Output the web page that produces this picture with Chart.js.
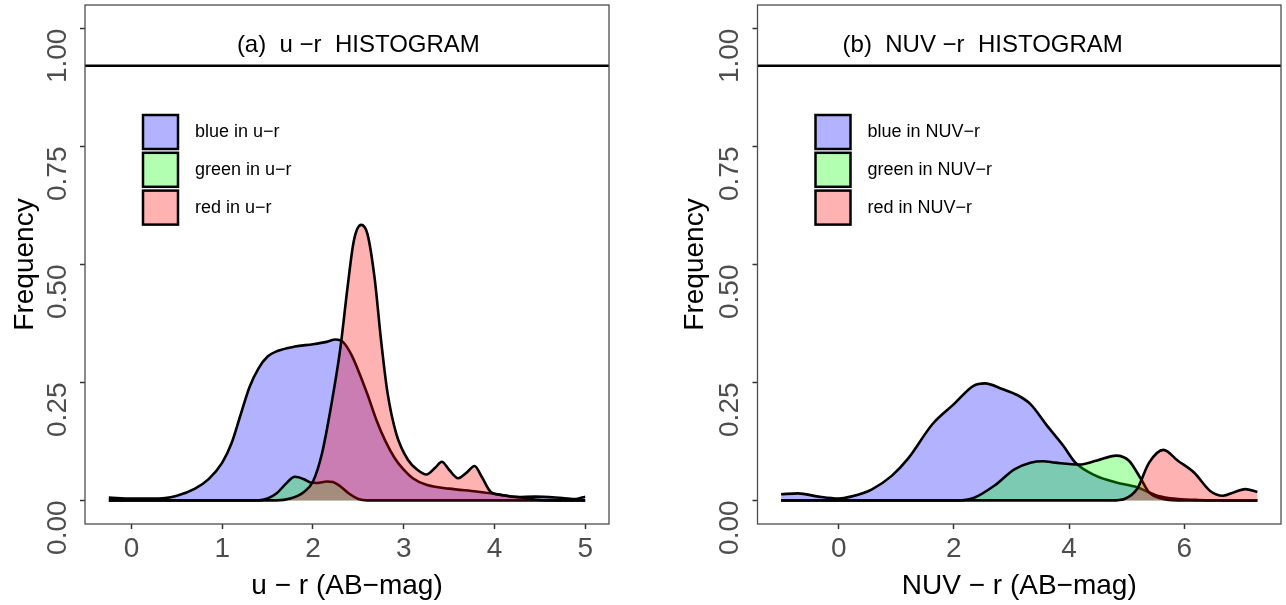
<!DOCTYPE html>
<html>
<head>
<meta charset="utf-8">
<script src="https://cdn.jsdelivr.net/npm/chart.js@4.4.1/dist/chart.umd.min.js"></script>
<style>
  body { margin: 0; background: #fff; }
  #wrap { position: relative; width: 1286px; height: 605px; }
  canvas { position: absolute; top: 0; }
  #chartA { left: 0; }
  #chartB { left: 643px; }
</style>
</head>
<body>
<div id="wrap">
  <canvas id="chartA" width="643" height="605"></canvas>
  <canvas id="chartB" width="643" height="605"></canvas>
</div>
<script>
// ---- data ----
var yTicks = [0, 0.25, 0.5, 0.75, 1];
var yTickLabels = ['0.00', '0.25', '0.50', '0.75', '1.00'];

// (a) u - r
var urTicks = [0, 1, 2, 3, 4, 5];
var urTickLabels = ['0', '1', '2', '3', '4', '5'];
var urBlueX = [-0.25, 0, 0.3, 0.5, 0.7, 0.85, 1.0, 1.1, 1.2, 1.3, 1.4, 1.5, 1.6, 1.8, 2.0, 2.15, 2.25, 2.33, 2.42, 2.5, 2.6, 2.7, 2.8, 2.9, 3.0, 3.1, 3.25, 3.5, 3.8, 4.0, 4.25, 4.45, 4.75, 4.9, 5.0];
var urBlueY = [0.006, 0.004, 0.004, 0.01, 0.025, 0.045, 0.08, 0.12, 0.18, 0.24, 0.28, 0.305, 0.316, 0.326, 0.331, 0.336, 0.341, 0.336, 0.31, 0.275, 0.225, 0.17, 0.125, 0.09, 0.065, 0.047, 0.033, 0.025, 0.019, 0.014, 0.007, 0.008, 0.005, 0.003, 0.008];
var urGreenX = [-0.25, 1.4, 1.5, 1.6, 1.7, 1.8, 1.9, 1.97, 2.05, 2.15, 2.22, 2.3, 2.4, 2.5, 2.6, 5.0];
var urGreenY = [0, 0, 0.004, 0.015, 0.035, 0.05, 0.045, 0.038, 0.037, 0.04, 0.039, 0.03, 0.014, 0.003, 0, 0];
var urRedX = [-0.25, 1.6, 1.75, 1.9, 2.0, 2.1, 2.2, 2.3, 2.38, 2.45, 2.53, 2.6, 2.68, 2.75, 2.82, 2.92, 3.05, 3.15, 3.25, 3.35, 3.42, 3.5, 3.6, 3.7, 3.78, 3.86, 3.96, 4.1, 4.3, 4.5, 4.7, 5.0];
var urRedY = [0, 0, 0.004, 0.018, 0.04, 0.1, 0.2, 0.32, 0.45, 0.55, 0.584, 0.565, 0.47, 0.34, 0.23, 0.14, 0.085, 0.065, 0.055, 0.07, 0.082, 0.065, 0.047, 0.06, 0.073, 0.05, 0.018, 0.011, 0.006, 0.001, 0, 0];

// (b) NUV - r
var nuvTicks = [0, 2, 4, 6];
var nuvTickLabels = ['0', '2', '4', '6'];
var nuvBlueX = [-1.0, -0.71, -0.35, 0, 0.21, 0.57, 0.92, 1.2, 1.63, 2.0, 2.34, 2.54, 2.84, 3.12, 3.33, 3.62, 3.9, 4.11, 4.47, 4.82, 5.18, 5.53, 5.89, 6.24, 7.27];
var nuvBlueY = [0.013, 0.015, 0.008, 0.004, 0.008, 0.023, 0.052, 0.088, 0.162, 0.204, 0.243, 0.248, 0.236, 0.222, 0.204, 0.158, 0.116, 0.08, 0.052, 0.038, 0.028, 0.01, 0.003, 0.001, 0];
var nuvGreenX = [-1.0, 2.06, 2.34, 2.7, 3.05, 3.33, 3.55, 3.76, 4.18, 4.47, 4.82, 5.04, 5.25, 5.39, 5.6, 5.89, 7.27];
var nuvGreenY = [0, 0, 0.005, 0.031, 0.066, 0.08, 0.083, 0.08, 0.076, 0.084, 0.095, 0.084, 0.045, 0.017, 0.004, 0, 0];
var nuvRedX = [-1.0, 4.75, 4.96, 5.18, 5.39, 5.64, 5.89, 6.17, 6.45, 6.67, 6.88, 7.06, 7.27];
var nuvRedY = [0, 0, 0.003, 0.024, 0.08, 0.107, 0.084, 0.059, 0.02, 0.01, 0.018, 0.024, 0.018];

var FONT = '"Liberation Sans", Arial, Helvetica, sans-serif';
var fills = ['rgba(0,0,255,0.3)', 'rgba(0,255,0,0.3)', 'rgba(255,0,0,0.3)'];

function pts(xs, ys) {
    return xs.map(function (x, i) { return {x: x, y: ys[i]}; });
}

var panelDecor = {
    id: 'panelDecor',
    afterDatasetsDraw: function (chart, args, opts) {
        var ctx = chart.ctx, a = chart.chartArea;
        var x = chart.scales.x, y = chart.scales.y;
        ctx.save();
        // strip line
        var ly = y.getPixelForValue(opts.stripAt);
        ctx.strokeStyle = '#000';
        ctx.lineWidth = 2.5;
        ctx.beginPath();
        ctx.moveTo(a.left, ly);
        ctx.lineTo(a.right, ly);
        ctx.stroke();
        // strip title
        ctx.fillStyle = '#000';
        ctx.font = '24px ' + FONT;
        ctx.textAlign = 'center';
        ctx.textBaseline = 'middle';
        ctx.fillText(opts.title, x.getPixelForValue(opts.titleX), y.getPixelForValue(opts.titleY));
        // legend
        ctx.font = '18px ' + FONT;
        ctx.textAlign = 'left';
        for (var i = 0; i < opts.legend.length; i++) {
            var bx = a.left + 58, by = a.top + 110 + i * 37.8;
            ctx.fillStyle = '#fff';
            ctx.fillRect(bx, by, 35, 34);
            ctx.fillStyle = fills[i];
            ctx.fillRect(bx, by, 35, 34);
            ctx.strokeStyle = '#000';
            ctx.lineWidth = 2.5;
            ctx.strokeRect(bx, by, 35, 34);
            ctx.fillStyle = '#000';
            ctx.fillText(opts.legend[i], bx + 52, by + 17);
        }
        // panel border
        ctx.strokeStyle = '#4d4d4d';
        ctx.lineWidth = 1.3;
        ctx.strokeRect(a.left, a.top, a.right - a.left, a.bottom - a.top);
        ctx.restore();
    }
};

function makePanel(id, p) {
    var ds = function (xs, ys, k, ord) {
        return {
            data: pts(xs, ys),
            backgroundColor: fills[k],
            borderColor: '#000',
            borderWidth: 2.6,
            fill: 'origin',
            pointRadius: 0,
            cubicInterpolationMode: 'monotone',
            order: ord
        };
    };
    return new Chart(document.getElementById(id), {
        type: 'line',
        data: {
            datasets: [
                ds(p.bx, p.by, 0, 3),
                ds(p.gx, p.gy, 1, 2),
                ds(p.rx, p.ry, 2, 1)
            ]
        },
        options: {
            responsive: false,
            animation: false,
            devicePixelRatio: 1,
            layout: {padding: {top: 5, right: p.padRight, left: 0, bottom: 0}},
            plugins: {
                legend: {display: false},
                tooltip: {enabled: false},
                panelDecor: {stripAt: 0.921, title: p.title, titleX: 2.5, titleY: 0.965, legend: p.legend}
            },
            scales: {
                x: {
                    type: 'linear',
                    min: p.xmin,
                    max: p.xmax,
                    afterBuildTicks: function (s) { s.ticks = p.xt.map(function (v) { return {value: v}; }); },
                    afterFit: function (s) {
                        s.height = 81;
                        s.paddingLeft = 0;
                        s.paddingRight = 0;
                    },
                    ticks: {
                        autoSkip: false,
                        maxRotation: 0,
                        padding: 3,
                        color: '#4d4d4d',
                        font: {size: 28, family: FONT},
                        callback: function (v) { return p.xl[p.xt.indexOf(v)]; }
                    },
                    grid: {drawOnChartArea: false, tickLength: 5, tickColor: '#333', tickWidth: 1.5},
                    border: {display: false},
                    title: {display: true, text: p.xTitle, color: '#000', font: {size: 28, family: FONT}, padding: {top: 0, bottom: 2}}
                },
                y: {
                    min: -0.05,
                    max: 1.05,
                    afterBuildTicks: function (s) { s.ticks = yTicks.map(function (v) { return {value: v}; }); },
                    afterFit: function (s) {
                        s.width = p.yWidth;
                        s.paddingTop = 0;
                        s.paddingBottom = 0;
                    },
                    ticks: {
                        minRotation: 90,
                        maxRotation: 90,
                        crossAlign: 'near',
                        padding: 22,
                        color: '#4d4d4d',
                        font: {size: 28, family: FONT},
                        callback: function (v) { return yTickLabels[yTicks.indexOf(v)]; }
                    },
                    grid: {drawOnChartArea: false, tickLength: 5, tickColor: '#333', tickWidth: 1.5},
                    border: {display: false},
                    title: {display: true, text: 'Frequency', color: '#000', font: {size: 28, family: FONT}, padding: {top: p.yTitlePad, bottom: 0}}
                }
            }
        },
        plugins: [panelDecor]
    });
}

makePanel('chartA', {
    bx: urBlueX, by: urBlueY, gx: urGreenX, gy: urGreenY, rx: urRedX, ry: urRedY,
    xt: urTicks, xl: urTickLabels, xmin: -0.5125, xmax: 5.2625,
    padRight: 34, yWidth: 85, yTitlePad: 8,
    title: '(a)  u \u2212r  HISTOGRAM',
    xTitle: 'u \u2212 r (AB\u2212mag)',
    legend: ['blue in u\u2212r', 'green in u\u2212r', 'red in u\u2212r']
});

makePanel('chartB', {
    bx: nuvBlueX, by: nuvBlueY, gx: nuvGreenX, gy: nuvGreenY, rx: nuvRedX, ry: nuvRedY,
    xt: nuvTicks, xl: nuvTickLabels, xmin: -1.41, xmax: 7.68,
    padRight: 5, yWidth: 114.5, yTitlePad: 35,
    title: '(b)  NUV \u2212r  HISTOGRAM',
    xTitle: 'NUV \u2212 r (AB\u2212mag)',
    legend: ['blue in NUV\u2212r', 'green in NUV\u2212r', 'red in NUV\u2212r']
});
</script>
</body>
</html>
